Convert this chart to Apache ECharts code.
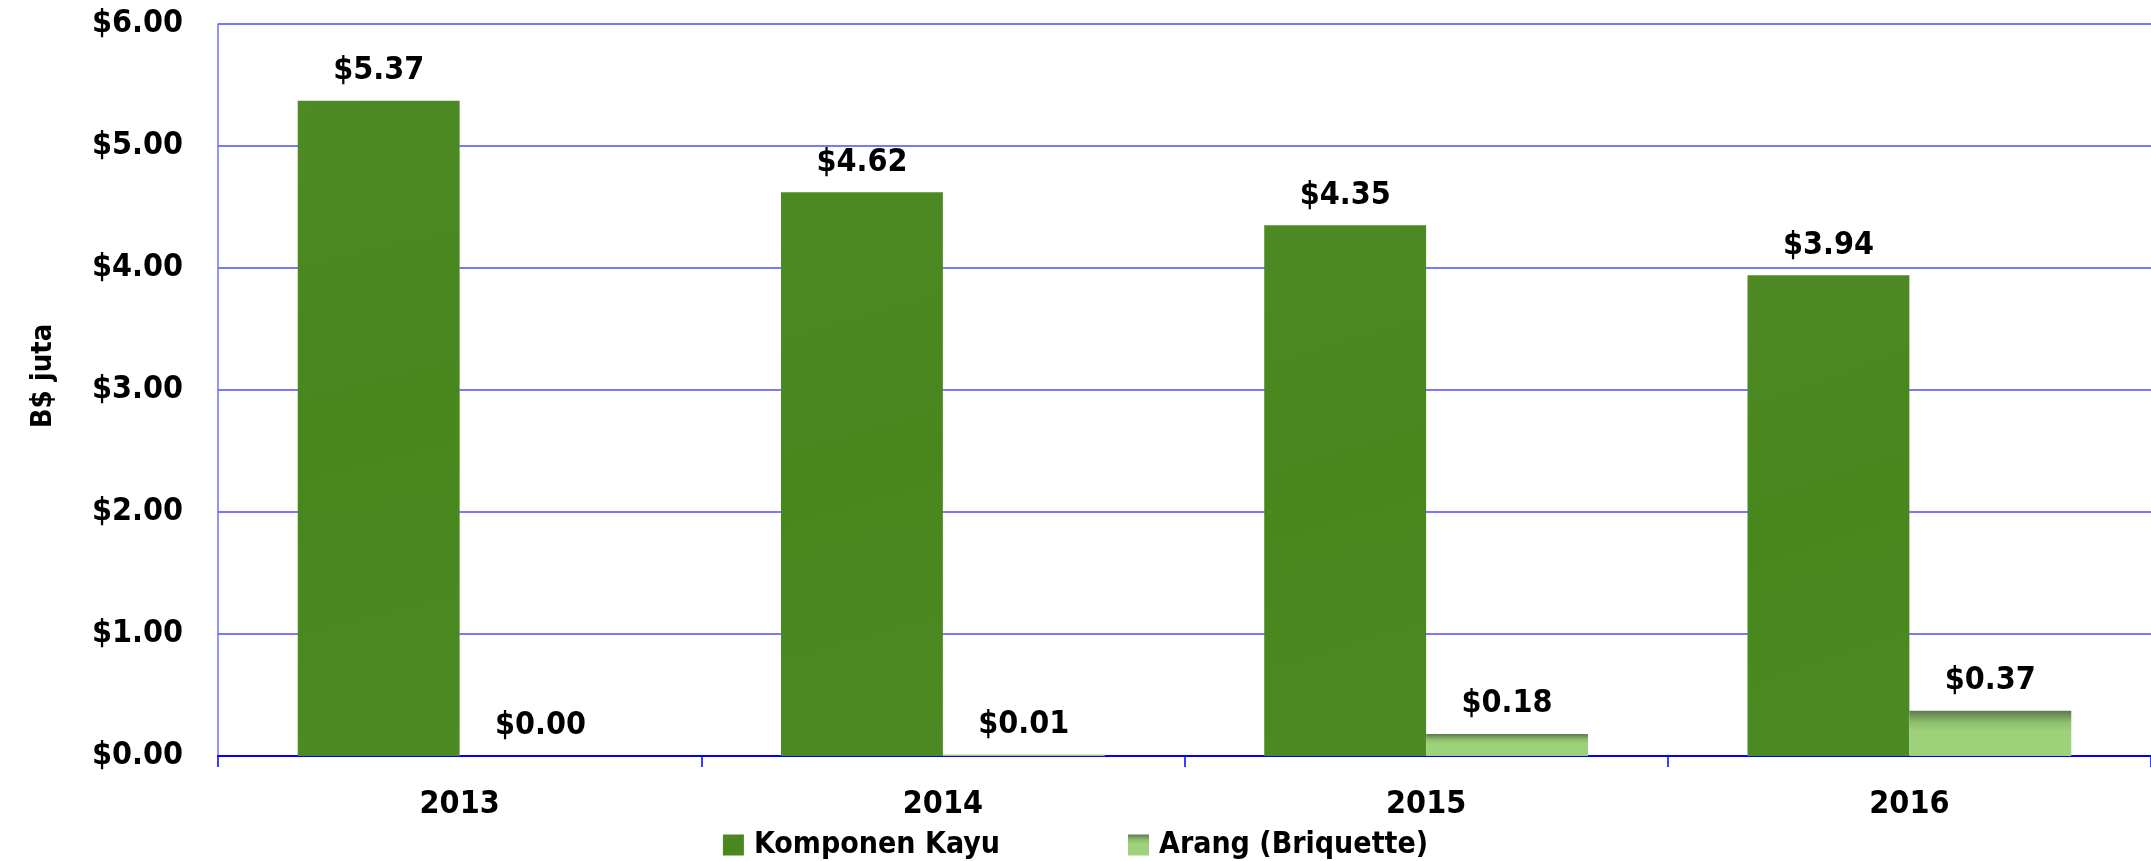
<!DOCTYPE html>
<html>
<head>
<meta charset="utf-8">
<title>Komponen Kayu vs Arang</title>
<script src="https://cdn.jsdelivr.net/npm/echarts@6/dist/echarts.min.js"></script>
<style>
  html, body { margin: 0; padding: 0; background: #fff; }
  #chart-main { width: 2151px; height: 861px; }
</style>
</head>
<body>
<div id="chart-main"></div>
<script>
// ============================================================
// 数据
// ============================================================

var YEARS = ['2013', '2014', '2015', '2016'];
var SERIES_NAMES = ['Komponen Kayu', 'Arang (Briquette)'];
var KOMPONEN_KAYU = [5.37, 4.62, 4.35, 3.94];
var ARANG = [0.00, 0.01, 0.18, 0.37];
var Y_AXIS_NAME = 'B$ juta';

var FONT = "'DejaVu Sans Condensed', 'Liberation Sans Narrow', 'DejaVu Sans', sans-serif";

function money(v) {
  return '$' + Number(v).toFixed(2);
}

// ============================================================
// 渲染
// ============================================================

var chart = echarts.init(document.getElementById('chart-main'));

var labelStyle = {
  show: true,
  position: 'top',
  distance: 14,
  fontFamily: FONT,
  fontWeight: 'bold',
  fontSize: 32,
  color: '#000',
  formatter: function(p) { return money(p.value); }
};

chart.setOption({
  animation: false,
  textStyle: { fontFamily: FONT },
  grid: { left: 218, right: -4, top: 24, bottom: 105 },
  legend: {
    top: 825,
    left: 'center',
    itemWidth: 21,
    itemHeight: 21,
    itemGap: 128,
    icon: 'rect',
    textStyle: {
      fontFamily: FONT,
      fontWeight: 'bold',
      fontSize: 30,
      color: '#000',
      padding: [0, 0, 0, 5]
    },
    data: SERIES_NAMES
  },
  xAxis: {
    type: 'category',
    data: YEARS,
    axisLine: { lineStyle: { color: '#0000ff', width: 2 } },
    axisTick: { show: true, length: 11, lineStyle: { color: '#0000ff', width: 1.5 } },
    axisLabel: {
      margin: 33,
      fontFamily: FONT,
      fontWeight: 'bold',
      fontSize: 32,
      color: '#000'
    }
  },
  yAxis: {
    type: 'value',
    min: 0,
    max: 6,
    interval: 1,
    name: Y_AXIS_NAME,
    nameLocation: 'middle',
    nameGap: 160,
    nameRotate: 90,
    nameTextStyle: {
      fontFamily: FONT,
      fontWeight: 'bold',
      fontSize: 29,
      color: '#000',
      padding: [0, 0, 0, 28]
    },
    axisLine: { show: true, lineStyle: { color: '#7070ff', width: 1.5 } },
    axisTick: { show: false },
    splitLine: { lineStyle: { color: '#4a4aff', width: 1.5 } },
    axisLabel: {
      margin: 35,
      fontFamily: FONT,
      fontWeight: 'bold',
      fontSize: 32,
      color: '#000',
      formatter: function(v) { return money(v); }
    }
  },
  series: [
    {
      name: SERIES_NAMES[0],
      type: 'bar',
      data: KOMPONEN_KAYU,
      barWidth: '33.5%',
      barGap: '0%',
      itemStyle: {
        color: new echarts.graphic.LinearGradient(0, 0, 1, 1, [
          { offset: 0, color: '#4e8a24' },
          { offset: 0.5, color: '#47871c' },
          { offset: 1, color: '#4c8b23' }
        ])
      },
      label: labelStyle
    },
    {
      name: SERIES_NAMES[1],
      type: 'bar',
      data: ARANG,
      barWidth: '33.5%',
      barGap: '0%',
      itemStyle: {
        color: new echarts.graphic.LinearGradient(0, 0, 0, 1, [
          { offset: 0, color: '#5e7a4c' },
          { offset: 0.25, color: '#8dbd6c' },
          { offset: 0.45, color: '#9ed27a' },
          { offset: 1, color: '#9ed27a' }
        ])
      },
      label: labelStyle
    }
  ]
});
</script>
</body>
</html>
